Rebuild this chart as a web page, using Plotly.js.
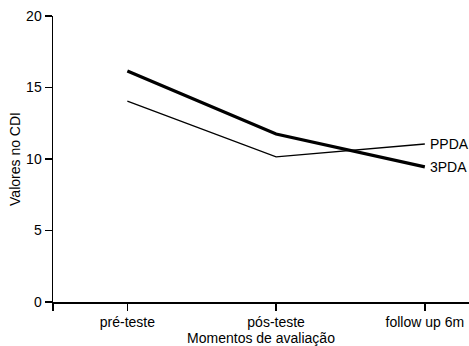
<!DOCTYPE html>
<html>
<head>
<meta charset="utf-8">
<script src="https://cdn.plot.ly/plotly-3.0.1.min.js"></script>
<style>html,body{margin:0;padding:0;background:#fff;}#chart{width:469px;height:346px;}</style>
</head>
<body>
<div id="chart"></div>
<script>
var categories = ["pré-teste", "pós-teste", "follow up 6m"];
var series3PDA = [16.15, 11.75, 9.45];
var seriesPPDA = [14.05, 10.15, 11.05];
var seriesNames = ["3PDA", "PPDA"];
var yTicks = [0, 5, 10, 15, 20];

var xIdx = categories.map(function(_, i){ return i; });
var font = {family: "Liberation Sans, Arial, sans-serif", size: 14, color: "#000"};

var traces = [
  {x: xIdx, y: series3PDA, mode: "lines", name: seriesNames[0], line: {color: "#000", width: 3.2}, hoverinfo: "skip"},
  {x: xIdx, y: seriesPPDA, mode: "lines", name: seriesNames[1], line: {color: "#000", width: 1.3}, hoverinfo: "skip"}
];

var layout = {
  width: 469, height: 346,
  margin: {l: 53, r: 0, t: 16, b: 44},
  paper_bgcolor: "#fff", plot_bgcolor: "#fff",
  showlegend: false,
  font: font,
  xaxis: {
    range: [-0.5, 2.297],
    tickvals: [-0.5].concat(xIdx),
    ticktext: [""].concat(categories),
    ticks: "outside", ticklen: 7, tickwidth: 1.5, tickcolor: "#000",
    showline: true, linecolor: "#000", linewidth: 1.5,
    showgrid: false, zeroline: false,
    tickfont: font,
    title: {text: "Momentos de avaliação", font: font, standoff: 4}
  },
  yaxis: {
    range: [0, 20],
    tickvals: yTicks,
    ticks: "outside", ticklen: 7, tickwidth: 1.5, tickcolor: "#000",
    showline: true, linecolor: "#000", linewidth: 1.5,
    showgrid: false, zeroline: false,
    tickfont: font,
    title: {text: "Valores no CDI", font: font, standoff: 2}
  },
  annotations: [
    {x: 2, y: seriesPPDA[2], xref: "x", yref: "y", text: seriesNames[1], showarrow: false, xanchor: "left", xshift: 3, font: font},
    {x: 2, y: series3PDA[2], xref: "x", yref: "y", text: seriesNames[0], showarrow: false, xanchor: "left", xshift: 3, font: font}
  ]
};

Plotly.newPlot("chart", traces, layout, {staticPlot: true, displayModeBar: false});
</script>
</body>
</html>
